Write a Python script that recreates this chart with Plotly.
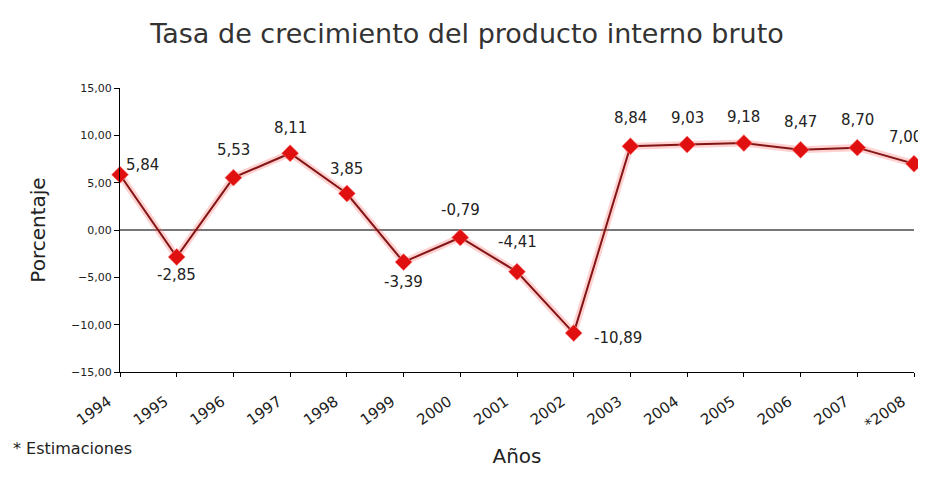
import plotly.graph_objects as go

# Data
years = [1994, 1995, 1996, 1997, 1998, 1999, 2000, 2001, 2002,
         2003, 2004, 2005, 2006, 2007, 2008]
year_labels = ["1994", "1995", "1996", "1997", "1998", "1999", "2000", "2001",
               "2002", "2003", "2004", "2005", "2006", "2007", "*2008"]
growth = [5.84, -2.85, 5.53, 8.11, 3.85, -3.39, -0.79, -4.41, -10.89,
          8.84, 9.03, 9.18, 8.47, 8.70, 7.00]

# label offsets in pixels (layout only)
label_dx = [22, 0, 0, 0, 0, 0, 0, 0, 44, 0, 0, 0, 0, 0, -9]
label_dy = [10, -18, 28, 25, 25, -20, 27, 30, -5, 28, 27, 26, 28, 28, 27]

# page body adds an 8px offset, so the figure is drawn 8px smaller
W, H = 918, 474

fig = go.Figure()

# soft red halo under the line
fig.add_trace(go.Scatter(
    x=years, y=growth, mode='lines',
    line=dict(color='rgba(255,90,90,0.28)', width=7),
    hoverinfo='skip', showlegend=False, cliponaxis=False
))

fig.add_trace(go.Scatter(
    x=years, y=growth, mode='lines+markers',
    line=dict(color='#841515', width=2),
    marker=dict(symbol='diamond', size=13, color='#e01010',
                line=dict(color='rgba(255,120,120,0.6)', width=1)),
    showlegend=False, cliponaxis=False
))

for x, y, dx, dy in zip(years, growth, label_dx, label_dy):
    fig.add_annotation(
        x=x, y=y, text=f"{y:.2f}".replace('.', ','),
        showarrow=False, xshift=dx, yshift=dy,
        font=dict(family="DejaVu Sans", size=15, color='#222222')
    )

fig.add_annotation(
    x=-0.137, y=-0.271, xref='paper', yref='paper',
    text="* Estimaciones", showarrow=False, xanchor='left', yanchor='middle',
    font=dict(family="DejaVu Sans", size=16, color='#222222')
)

fig.update_layout(
    width=W, height=H,
    margin=dict(l=112, r=12, t=80, b=110),
    paper_bgcolor='white', plot_bgcolor='white',
    separators=',.',
    title=dict(text="Tasa de crecimiento del producto interno bruto",
               x=0.5, xref='container', y=0.947, yref='container',
               xanchor='center', yanchor='middle',
               font=dict(family="DejaVu Sans", size=27, color='#333333')),
    xaxis=dict(
        range=[1994, 2008], tickvals=years,
        ticktext=[t + "\u00a0" * 3 for t in year_labels],
        tickangle=-35, showgrid=False, zeroline=False, automargin=False,
        showline=True, linecolor='black', linewidth=1,
        ticks='outside', ticklen=4, tickcolor='black', ticklabelstandoff=2,
        tickfont=dict(family="DejaVu Sans", size=15, color='#222222'),
        title=dict(text="Años", standoff=16,
                   font=dict(family="DejaVu Sans", size=20, color='#222222'))
    ),
    yaxis=dict(
        range=[-15, 15], dtick=5, tickformat='.2f', automargin=False,
        showgrid=False, zeroline=True, zerolinecolor='#777777', zerolinewidth=1.5,
        showline=True, linecolor='black', linewidth=1,
        ticks='outside', ticklen=5, tickcolor='black',
        tickfont=dict(family="DejaVu Sans", size=11, color='#222222'),
        title=dict(text="Porcentaje", standoff=20,
                   font=dict(family="DejaVu Sans", size=20, color='#222222'))
    )
)

fig.write_html("out.html")
